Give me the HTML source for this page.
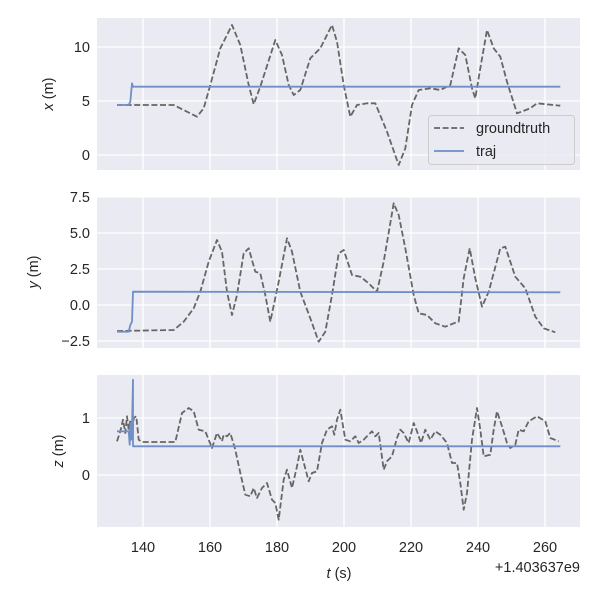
<!DOCTYPE html>
<html><head><meta charset="utf-8"><style>
body{margin:0;background:#fff}
svg text{font-family:"Liberation Sans","DejaVu Sans",sans-serif;fill:#262626;font-size:14.5px}
</style></head><body>
<svg id="s" width="600" height="600" xmlns="http://www.w3.org/2000/svg">
<rect x="97" y="18" width="483" height="152" fill="#eaeaf2"/>
<rect x="97" y="197" width="483" height="151" fill="#eaeaf2"/>
<rect x="97" y="375" width="483" height="152" fill="#eaeaf2"/>
<g stroke="#fff" stroke-width="1.3">
<g id="vg"></g>
<line x1="97" x2="580" y1="47" y2="47"/><line x1="97" x2="580" y1="101" y2="101"/><line x1="97" x2="580" y1="155" y2="155"/>
<line x1="97" x2="580" y1="197" y2="197"/><line x1="97" x2="580" y1="233" y2="233"/><line x1="97" x2="580" y1="269" y2="269"/><line x1="97" x2="580" y1="305" y2="305"/><line x1="97" x2="580" y1="341" y2="341"/>
<line x1="97" x2="580" y1="418" y2="418"/><line x1="97" x2="580" y1="475" y2="475"/>
</g>
<g id="lines"></g>
<g text-anchor="end">
<text x="90" y="52">10</text><text x="90" y="106">5</text><text x="90" y="160">0</text>
<text x="90" y="202">7.5</text><text x="90" y="238">5.0</text><text x="90" y="274">2.5</text><text x="90" y="310">0.0</text><text x="90" y="346">−2.5</text>
<text x="90" y="423">1</text><text x="90" y="480">0</text>
</g>
<g text-anchor="middle">
<text x="143" y="552">140</text><text x="210" y="552">160</text><text x="277" y="552">180</text><text x="344" y="552">200</text><text x="411" y="552">220</text><text x="478" y="552">240</text><text x="545" y="552">260</text>
<text x="339" y="578" font-size="16px"><tspan font-style="italic">t</tspan> (s)</text>
</g>
<text x="580" y="572" text-anchor="end">+1.403637e9</text>
<text transform="translate(53,94) rotate(-90)" text-anchor="middle" font-size="16px"><tspan font-style="italic">x</tspan> (m)</text>
<text transform="translate(38,272) rotate(-90)" text-anchor="middle" font-size="16px"><tspan font-style="italic">y</tspan> (m)</text>
<text transform="translate(63,451) rotate(-90)" text-anchor="middle" font-size="16px"><tspan font-style="italic">z</tspan> (m)</text>
<rect x="428.5" y="115.5" width="146" height="49" rx="3" fill="#eaeaf2" fill-opacity="0.8" stroke="#ccc"/>
<line x1="434" x2="464" y1="128" y2="128" stroke="#666" stroke-width="1.8" stroke-dasharray="6,2.6"/>
<line x1="434" x2="464" y1="151" y2="151" stroke="#6f8fc6" stroke-width="1.8"/>
<text x="476" y="133">groundtruth</text><text x="476" y="156">traj</text>
</svg>
<script>
var NS="http://www.w3.org/2000/svg";
var vg=document.getElementById('vg');
[143,210,277,344,411,478,545].forEach(function(x){[[18,170],[197,348],[375,527]].forEach(function(r){var l=document.createElementNS(NS,'line');l.setAttribute('x1',x);l.setAttribute('x2',x);l.setAttribute('y1',r[0]);l.setAttribute('y2',r[1]);vg.appendChild(l);});});
var L=document.getElementById('lines');
function pl(pts,ox,oy,col,dash){var p=document.createElementNS(NS,'polyline');var s=[];for(var i=0;i<pts.length;i+=2)s.push((ox+pts[i]/3).toFixed(1)+','+(oy+pts[i+1]/3).toFixed(1));p.setAttribute('points',s.join(' '));p.setAttribute('fill','none');p.setAttribute('stroke',col);p.setAttribute('stroke-width','1.8');p.setAttribute('stroke-linejoin','round');if(dash)p.setAttribute('stroke-dasharray','6,2.6');L.appendChild(p);}
var G='#666',B='#6f8fc6';
pl([60,270,230,270,300,305,320,280,340,210,370,100,405,30,430,90,455,210,470,268,490,215,535,75,555,120,575,210,590,240,610,225,640,130,670,100,705,30,720,80,740,210,760,305,780,270,810,265,835,265,870,350,905,450,925,400,945,270,965,225,1000,220,1030,225,1060,210,1085,100,1105,120,1125,220,1135,250,1150,160,1170,45,1190,100,1210,125,1230,200,1260,295,1300,280,1320,265,1390,272],97,15,G,1);
pl([60,270,95,270,100,260,105,205,108,215,1390,215],97,15,B,0);
pl([60,408,230,405,260,380,290,340,310,290,335,200,360,135,375,170,390,290,405,360,420,300,440,175,455,160,475,230,490,235,505,300,520,380,545,260,570,130,585,170,610,290,640,370,665,440,685,410,705,300,725,175,740,165,765,240,790,245,815,265,840,290,860,200,890,25,905,60,925,160,950,300,965,355,990,360,1015,385,1045,395,1070,385,1085,380,1100,250,1118,160,1135,250,1155,335,1175,290,1210,160,1225,155,1255,245,1285,280,1315,365,1340,400,1375,412],97,195,G,1);
pl([60,410,95,410,100,390,105,380,108,290,1390,292],97,195,B,0);
pl([60,205,70,175,78,140,85,180,90,130,95,170,100,140,105,195,110,135,118,130,125,200,135,207,235,207,255,120,275,105,290,115,305,170,325,175,345,225,360,180,375,205,380,185,390,190,400,180,415,230,430,300,445,365,460,370,470,345,480,375,495,345,510,330,525,380,535,390,545,440,560,320,570,290,585,345,600,280,610,230,635,325,645,300,660,295,675,210,690,170,705,160,712,185,720,140,730,110,745,200,760,205,775,190,785,210,800,200,810,190,825,175,835,190,845,180,860,290,870,265,885,250,900,195,910,170,920,180,935,210,950,150,960,175,972,210,985,170,1000,200,1015,175,1030,185,1050,210,1065,270,1080,270,1090,330,1100,410,1110,360,1125,200,1140,105,1150,170,1160,250,1180,245,1190,170,1200,115,1215,160,1230,210,1240,225,1255,215,1265,170,1280,175,1295,145,1320,130,1345,145,1360,195,1385,205],97,373,G,1);
pl([60,175,95,175,98,215,100,150,103,200,105,160,108,20,108,220,1390,220],97,373,B,0);
</script>
</body></html>
